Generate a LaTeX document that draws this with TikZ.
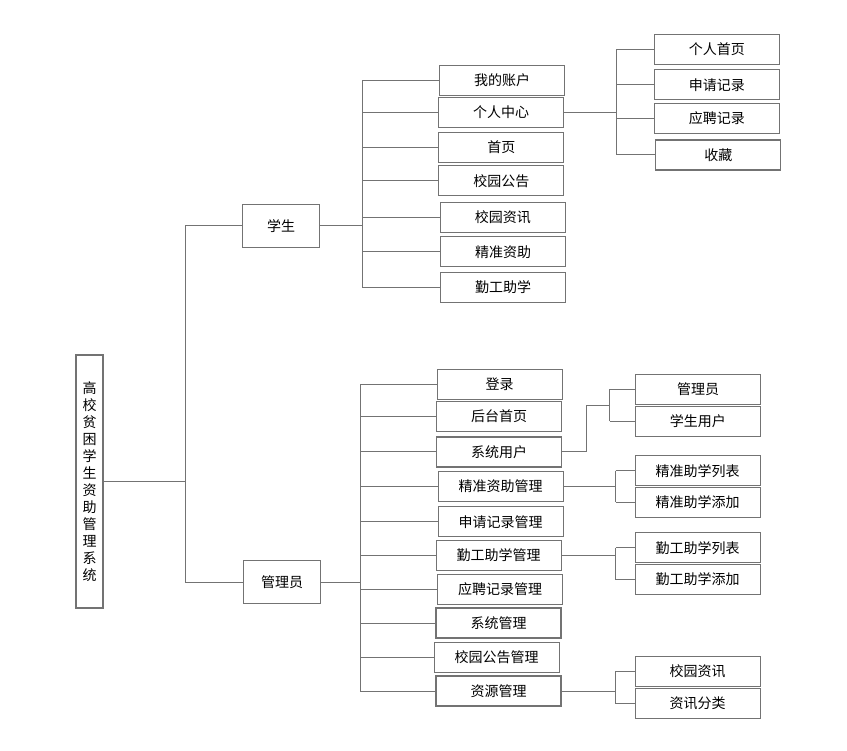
\documentclass[tikz,border=0pt]{standalone}
\usepackage{fontspec}
\setmainfont{Noto Sans CJK SC}
\usetikzlibrary{calc}
\tikzset{
	box/.style={draw=black!55, line width=1.1pt, minimum width=125pt, minimum height=30pt, inner sep=0pt, font=\fontsize{14}{16}\selectfont},
	rolebox/.style={box, minimum width=77pt, minimum height=43pt},
	link/.style={draw=black!55, line width=1pt}
}

\begin{document}
\begin{tikzpicture}[x=1pt, y=-1pt]
			%%%%% START %%%%%
			
			\useasboundingbox (0, 0) rectangle (847, 751);
			
			\node[box, minimum width=27pt, minimum height=253pt, align=center, font=\fontsize{14}{17}\selectfont] (root) at (89.5, 481.5) {高\\校\\贫\\困\\学\\生\\资\\助\\管\\理\\系\\统};
			
			\node[rolebox] (stu) at (281, 225.8) {学生};
			\node[rolebox] (adm) at (282, 582) {管理员};
			
			\node[box] (s1) at (502.2, 80.2) {我的账户};
			\node[box] (s2) at (501, 112.3) {个人中心};
			\node[box] (s3) at (501.3, 147.5) {首页};
			\node[box] (s4) at (501.3, 180.8) {校园公告};
			\node[box] (s5) at (502.8, 217.3) {校园资讯};
			\node[box] (s6) at (503.2, 251.7) {精准资助};
			\node[box] (s7) at (503.2, 287.2) {勤工助学};
			
			\node[box] (p1) at (716.8, 49.2) {个人首页};
			\node[box] (p2) at (716.8, 84.7) {申请记录};
			\node[box] (p3) at (716.8, 118.2) {应聘记录};
			\node[box] (p4) at (718.3, 155) {收藏};
			
			\node[box] (a1) at (499.7, 384.3) {登录};
			\node[box] (a2) at (499, 416.3) {后台首页};
			\node[box] (a3) at (499, 452) {系统用户};
			\node[box] (a4) at (500.7, 486.5) {精准资助管理};
			\node[box] (a5) at (500.7, 521.8) {申请记录管理};
			\node[box] (a6) at (498.7, 555.2) {勤工助学管理};
			\node[box] (a7) at (500, 589.2) {应聘记录管理};
			\node[box] (a8) at (498.5, 623) {系统管理};
			\node[box] (a9) at (496.7, 657.5) {校园公告管理};
			\node[box] (a10) at (498.5, 691) {资源管理};
			
			\node[box] (u1) at (698.2, 389.5) {管理员};
			\node[box] (u2) at (697.8, 421.5) {学生用户};
			\node[box] (j1) at (697.7, 470.7) {精准助学列表};
			\node[box] (j2) at (697.7, 502.5) {精准助学添加};
			\node[box] (q1) at (697.7, 547.8) {勤工助学列表};
			\node[box] (q2) at (697.7, 579.5) {勤工助学添加};
			\node[box] (r1) at (697.7, 671.3) {校园资讯};
			\node[box] (r2) at (697.7, 703.5) {资讯分类};
			
			% bus lines
			\coordinate (bus0) at (185, 0);
			\coordinate (bus1) at (362, 0);
			\coordinate (bus2) at (616, 0);
			\coordinate (bus3) at (360, 0);
			\coordinate (bus4) at (586, 0);
			\coordinate (bus5) at (609.5, 0);
			\coordinate (bus6) at (615.5, 0);
			
			\draw[link] (root.east) -- (root.east -| bus0);
			\draw[link] (stu.west) -- (stu.west -| bus0) -- (adm.west -| bus0) -- (adm.west);
			
			\draw[link] (stu.east) -- (stu.east -| bus1);
			\draw[link] (s1.west -| bus1) -- (s7.west -| bus1);
			\foreach \n in {s1,s2,s3,s4,s5,s6,s7}
				\draw[link] (\n.west -| bus1) -- (\n.west);
			
			\draw[link] (s2.east) -- (s2.east -| bus2);
			\draw[link] (p1.west -| bus2) -- (p4.west -| bus2);
			\foreach \n in {p1,p2,p3,p4}
				\draw[link] (\n.west -| bus2) -- (\n.west);
			
			\draw[link] (adm.east) -- (adm.east -| bus3);
			\draw[link] (a1.west -| bus3) -- (a10.west -| bus3);
			\foreach \n in {a1,a2,a3,a4,a5,a6,a7,a8,a9,a10}
				\draw[link] (\n.west -| bus3) -- (\n.west);
			
			\coordinate (um) at ($(u1.west)!0.5!(u2.west)$);
			\draw[link] (a3.east) -| (um -| bus4) -- (um -| bus5);
			\draw[link] (u1.west -| bus5) -- (u2.west -| bus5);
			\foreach \n in {u1,u2}
				\draw[link] (\n.west -| bus5) -- (\n.west);
			
			\draw[link] (a4.east) -- (a4.east -| bus6);
			\draw[link] (j1.west -| bus6) -- (j2.west -| bus6);
			\foreach \n in {j1,j2}
				\draw[link] (\n.west -| bus6) -- (\n.west);
			
			\draw[link] (a6.east) -- (a6.east -| bus6);
			\draw[link] (q1.west -| bus6) -- (q2.west -| bus6);
			\foreach \n in {q1,q2}
				\draw[link] (\n.west -| bus6) -- (\n.west);
			
			\draw[link] (a10.east) -- (a10.east -| bus6);
			\draw[link] (r1.west -| bus6) -- (r2.west -| bus6);
			\foreach \n in {r1,r2}
				\draw[link] (\n.west -| bus6) -- (\n.west);
			
			%%%%% END %%%%%
		\end{tikzpicture}
\end{document}
